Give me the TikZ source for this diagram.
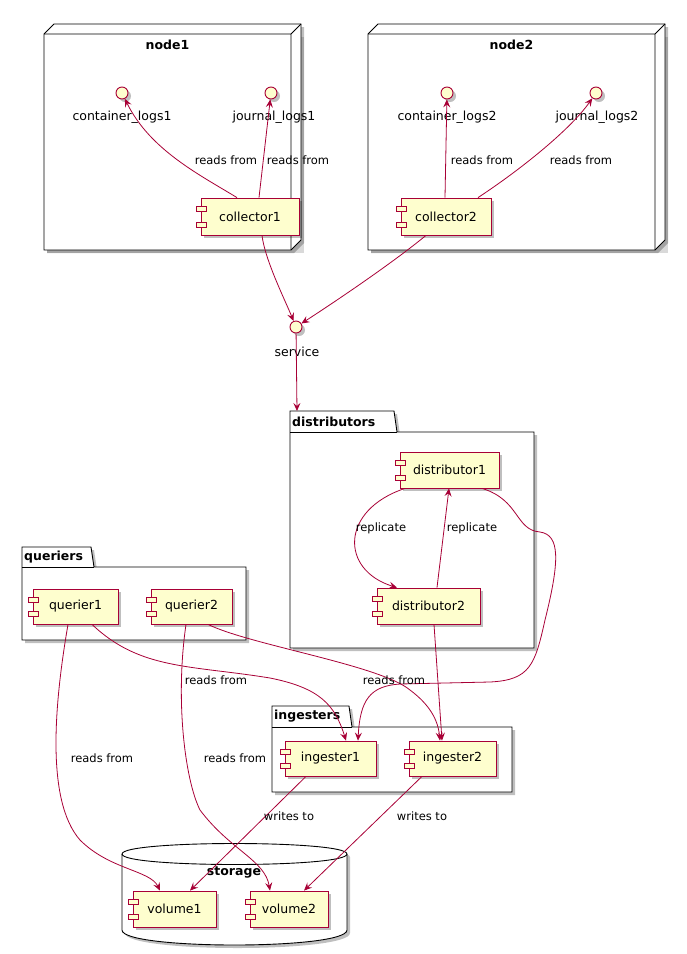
\documentclass[tikz,border=0pt]{standalone}
\usepackage{fontspec}
\setmainfont{DejaVu Sans}
\usetikzlibrary{shadows,arrows.meta}
\definecolor{cb}{HTML}{A80036}
\definecolor{cf}{HTML}{FEFECE}
\tikzset{
  x=1pt,y=-1pt,
  shad/.style={drop shadow={shadow xshift=3pt,shadow yshift=-3pt,opacity=0.25,fill=black}},
  comp/.style={draw=cb,fill=cf,line width=0.8pt,shad,inner sep=0pt,font=\fontsize{12.5}{14}\selectfont},
  iface/.style={circle,draw=cb,fill=cf,line width=0.9pt,minimum size=12pt,inner sep=0pt,shad},
  lab/.style={font=\fontsize{11.5}{13}\selectfont},
  ilab/.style={font=\fontsize{12.5}{14}\selectfont},
  ttl/.style={font=\bfseries\fontsize{12.5}{14}\selectfont},
  cont/.style={draw=black,fill=white,line width=0.9pt,shad},
  arr/.style={draw=cb,line width=0.8pt,-{Stealth[length=8pt,width=7pt,inset=3pt]}},
}
\newcommand\comp[6]{%
  \node[comp,minimum width=#4-#2,minimum height=#5-#3] (#1) at ({(#2+#4)/2},{(#3+#5)/2}) {#6};
  \draw[cb,fill=cf,line width=0.8pt] (#2-5,#3+8) rectangle (#2+5,#3+13);
  \draw[cb,fill=cf,line width=0.8pt] (#2-5,#5-13) rectangle (#2+5,#5-8);
}
\begin{document}
\begin{tikzpicture}
\useasboundingbox (0,0) rectangle (687,954);
% node1 / node2 3D boxes
\foreach \a/\b/\n/\t in {44/291/n1/node1,368/655/n2/node2}{
  \fill[black,opacity=0.15] (\a+3,37) rectangle (\b+13,253);
  \draw[cont] (\a,34) -- (\a+10,24) -- (\b+10,24) -- (\b+10,240) -- (\b,250) -- (\a,250) -- cycle;
  \draw[line width=0.9pt] (\a,34) -- (\b,34) -- (\b+10,24) (\b,34) -- (\b,250);
  \node[ttl] (\n) at ({(\a+\b)/2},45) {\t};
}
% packages
\newcommand\pkg[7]{%
  \draw[cont] (#2,#4) -- (#2,#3) -- (#5-3,#3) -- (#5,#4) -- (#6,#4) -- (#6,#7) -- (#2,#7) -- cycle;
  \draw[line width=0.9pt] (#2,#4) -- (#5,#4);
  \node[ttl,anchor=west,inner sep=1pt] (#1) at (#2+1,{(#3+#4)/2}) {#1};
}
\pkg{distributors}{290}{411}{432}{397}{534}{648}
\pkg{queriers}{22}{547}{567}{94}{246}{640}
\pkg{ingesters}{272}{706}{727}{352}{512}{792}
% storage
\draw[cont] (122,854) .. controls (122,840) and (347,840) .. (347,854) -- (347,930) .. controls (347,950) and (122,950) .. (122,930) -- cycle;
\draw[line width=0.9pt] (122,854) .. controls (122,868) and (347,868) .. (347,854);
\node[ttl] (storage) at (234,872) {storage};
% interfaces
\node[iface] (cl1) at (122,93) {}; \node[ilab] (cl1t) at (122,117) {container\_logs1};
\node[iface] (jl1) at (271,93) {}; \node[ilab] (jl1t) at (274,117) {journal\_logs1};
\node[iface] (cl2) at (447,93) {}; \node[ilab] (cl2t) at (447,117) {container\_logs2};
\node[iface] (jl2) at (596,93) {}; \node[ilab] (jl2t) at (597,117) {journal\_logs2};
\node[iface] (svc) at (296,327) {}; \node[ilab] (svct) at (297,352) {service};
% components
\comp{c1}{201}{198}{299}{235}{collector1}
\comp{c2}{401}{198}{491}{235}{collector2}
\comp{d1}{400}{452}{499}{488}{distributor1}
\comp{d2}{377}{588}{480}{624}{distributor2}
\comp{q1}{33}{589}{118}{624}{querier1}
\comp{q2}{151}{589}{232}{624}{querier2}
\comp{i1}{285}{741}{376}{776}{ingester1}
\comp{i2}{409}{741}{496}{776}{ingester2}
\comp{v1}{133}{891}{216}{927}{volume1}
\comp{v2}{250}{891}{328}{927}{volume2}
% edges
\draw[arr] (c1.north -| 237,0) .. controls (200,175) and (150,150) .. (cl1);
\node[lab] (e1) at (226,160) {reads from};
\draw[arr] (c1.north -| 259,0) -- (jl1);
\node[lab] (e2) at (298,160) {reads from};
\draw[arr] (c2.north -| 445,0) -- (cl2);
\node[lab] (e3) at (482,160) {reads from};
\draw[arr] (c2.north -| 478,0) .. controls (520,170) and (570,130) .. (jl2);
\node[lab] (e4) at (581,160) {reads from};
\draw[arr] (c1.south -| 262,0) .. controls (265,260) and (285,300) .. (svc);
\draw[arr] (c2.south -| 426,0) .. controls (390,265) and (330,305) .. (svc);
\draw[arr] (svc) -- (297,411);
\draw[arr] (d1.south -| 405,0) .. controls (340,510) and (340,570) .. (d2.north -| 397,0);
\node[lab] (e5) at (381,528) {replicate};
\draw[arr] (d2.north -| 437,0) -- (d1.south -| 449,0);
\node[lab] (e6) at (472,528) {replicate};
\draw[arr] (d1.south -| 482,0) .. controls (520,500) and (515,530) .. (540,532) .. controls (560,535) and (560,560) .. (545,620) .. controls (535,665) and (530,680) .. (490,682) -- (400,684) .. controls (370,686) and (360,700) .. (i1.north -| 358,0);
\draw[arr] (d2.south -| 434,0) -- (i2.north -| 442,0);
\draw[arr] (q1.south -| 92,0) .. controls (140,670) and (190,665) .. (270,678) .. controls (320,688) and (335,705) .. (i1.north -| 346,0);
\node[lab] (e7) at (216,680) {reads from};
\draw[arr] (q2.south -| 208,0) .. controls (250,645) and (380,665) .. (410,690) .. controls (430,705) and (438,720) .. (i2.north -| 440,0);
\node[lab] (e8) at (394,680) {reads from};
\draw[arr] (q1.south -| 68,0) .. controls (55,700) and (45,800) .. (80,840) .. controls (110,870) and (150,870) .. (v1.north -| 160,0);
\node[lab] (e9) at (102,758) {reads from};
\draw[arr] (q2.south -| 186,0) .. controls (175,700) and (185,780) .. (200,810) .. controls (230,850) and (265,860) .. (v2.north -| 270,0);
\node[lab] (e10) at (235,758) {reads from};
\draw[arr] (i1.south -| 306,0) -- (v1.north -| 190,0);
\node[lab] (e11) at (289,816) {writes to};
\draw[arr] (i2.south -| 422,0) -- (v2.north -| 304,0);
\node[lab] (e12) at (422,816) {writes to};
\end{tikzpicture}
\end{document}
